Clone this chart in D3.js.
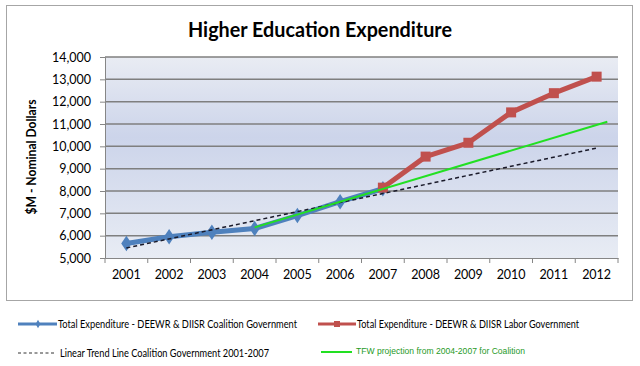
<!DOCTYPE html>
<html><head><meta charset="utf-8">
<script src="https://cdn.jsdelivr.net/npm/d3@7"></script>
<style>body{margin:0;background:#fff}svg{display:block}</style>
</head><body>
<svg id="c" width="640" height="366"></svg>
<script>
const years = [2001,2002,2003,2004,2005,2006,2007,2008,2009,2010,2011,2012];
const coalitionYears = [2001,2002,2003,2004,2005,2006,2007];
const coalitionValues = [5650,5950,6150,6320,6900,7520,8100];
const laborYears = [2007,2008,2009,2010,2011,2012];
const laborValues = [8150,9540,10160,11520,12380,13120];
const trendYears = [2001,2012];
const trendValues = [5450,9920];
const projYears = [2004,2012.25];
const projValues = [6370,11100];
const yTicks = [5000,6000,7000,8000,9000,10000,11000,12000,13000,14000];

const svg = d3.select("#c");
const L=105,R=618,T=57,B=258;
const x = d3.scaleBand().domain(years).range([L,R]);
const xl = d3.scaleLinear().domain([2001,2012]).range([x(2001)+x.bandwidth()/2, x(2012)+x.bandwidth()/2]);
const y = d3.scaleLinear().domain([5000,14000]).range([B,T]);
const font = "Lato, 'Open Sans', sans-serif";

// frame
svg.append("rect").attr("x",6.5).attr("y",5.5).attr("width",626).attr("height",295).attr("fill","#fff").attr("stroke","#a6a6a6");

const defs = svg.append("defs");
const g = defs.append("linearGradient").attr("id","bg").attr("x1",0).attr("y1",0).attr("x2",0).attr("y2",1);
g.append("stop").attr("offset","0%").attr("stop-color","#e9ecf3");
g.append("stop").attr("offset","40%").attr("stop-color","#ccd4ea");
g.append("stop").attr("offset","100%").attr("stop-color","#e8ecf4");
svg.append("rect").attr("x",L).attr("y",T).attr("width",R-L).attr("height",B-T).attr("fill","url(#bg)");

// title
svg.append("text").attr("x",320).attr("y",36.5).attr("text-anchor","middle")
  .attr("font-family",font).attr("font-weight","bold").attr("font-size",21).attr("fill","#000")
  .attr("textLength",264).attr("lengthAdjust","spacingAndGlyphs")
  .text("Higher Education Expenditure");

// gridlines
svg.append("g").selectAll("line").data(yTicks.slice(1)).join("line")
  .attr("x1",L).attr("x2",R).attr("y1",d=>y(d)).attr("y2",d=>y(d))
  .attr("stroke","#7f7f7f").attr("stroke-width",1.5);

// y axis
const ya = svg.append("g").attr("transform",`translate(${L},0)`)
  .call(d3.axisLeft(y).tickValues(yTicks).tickSize(5).tickPadding(9).tickFormat(d3.format(",")));
ya.select(".domain").attr("stroke","#868686");
ya.selectAll(".tick line").attr("stroke","#868686");
ya.selectAll("text").attr("font-family",font).attr("font-size",12.5).attr("fill","#000");

// x axis
const xa = svg.append("g").attr("transform",`translate(0,${B})`)
  .call(d3.axisBottom(x).tickSize(0).tickPadding(12));
xa.select(".domain").attr("stroke","#868686");
xa.selectAll("text").attr("font-family",font).attr("font-size",12.5).attr("fill","#000");
svg.append("g").selectAll("line").data(years.concat([2013])).join("line")
  .attr("x1",d=>d===2013?R:x(d)).attr("x2",d=>d===2013?R:x(d)).attr("y1",B).attr("y2",B+5)
  .attr("stroke","#868686");

// y axis title
svg.append("text").attr("transform",`translate(36,157) rotate(-90)`).attr("text-anchor","middle")
  .attr("font-family",font).attr("font-weight","bold").attr("font-size",13)
  .attr("textLength",115).attr("lengthAdjust","spacingAndGlyphs").text("$M - Nominal Dollars");

const line = d3.line().x(d=>d[0]).y(d=>d[1]);
const blue="#4f81bd", red="#c0504d", green="#22e022";

// blue series
const bpts = coalitionYears.map((yr,i)=>[x(yr)+x.bandwidth()/2, y(coalitionValues[i])]);
svg.append("path").attr("d",line(bpts)).attr("fill","none").attr("stroke",blue).attr("stroke-width",5).attr("stroke-linejoin","round");
svg.append("g").selectAll("path").data(bpts).join("path")
  .attr("d",d3.symbol(d3.symbolDiamond,70)).attr("transform",d=>`translate(${d[0]},${d[1]}) scale(1.15,1)`).attr("fill",blue);

// red series
const rpts = laborYears.map((yr,i)=>[x(yr)+x.bandwidth()/2, y(laborValues[i])]);
svg.append("path").attr("d",line(rpts)).attr("fill","none").attr("stroke",red).attr("stroke-width",5).attr("stroke-linejoin","round");
svg.append("g").selectAll("rect").data(rpts).join("rect")
  .attr("x",d=>d[0]-5).attr("y",d=>d[1]-5).attr("width",10).attr("height",10).attr("fill",red);

// trend dashed
const tpts = trendYears.map((yr,i)=>[xl(yr), y(trendValues[i])]);
svg.append("path").attr("d",line(tpts)).attr("fill","none").attr("stroke","#1a1a2a").attr("stroke-width",1.5).attr("stroke-dasharray","4,3");

// green projection
const gpts = projYears.map((yr,i)=>[xl(yr), y(projValues[i])]);
svg.append("path").attr("d",line(gpts)).attr("fill","none").attr("stroke",green).attr("stroke-width",2);

// legend
const lg = svg.append("g");
function ltext(xp, yp, w, txt, size, fam, col){
  lg.append("text").attr("x",xp).attr("y",yp).attr("font-family",fam||font).attr("font-size",size)
    .attr("fill",col||"#000").attr("textLength",w).attr("lengthAdjust","spacingAndGlyphs").text(txt);
}
lg.append("line").attr("x1",18).attr("x2",57).attr("y1",324).attr("y2",324).attr("stroke",blue).attr("stroke-width",3);
lg.append("path").attr("d",d3.symbol(d3.symbolDiamond,20)).attr("transform","translate(38,324)").attr("fill",blue);
ltext(58,328,239,"Total  Expenditure - DEEWR & DIISR Coalition Government",10.5);
lg.append("line").attr("x1",318).attr("x2",356).attr("y1",324).attr("y2",324).attr("stroke",red).attr("stroke-width",3);
lg.append("rect").attr("x",334).attr("y",321).attr("width",6).attr("height",6).attr("fill",red);
ltext(357,328,222,"Total  Expenditure - DEEWR & DIISR Labor Government",10.5);
lg.append("line").attr("x1",18).attr("x2",56).attr("y1",353).attr("y2",353).attr("stroke","#333").attr("stroke-width",1).attr("stroke-dasharray","3,2.5");
ltext(60,357,209,"Linear Trend Line Coalition Government 2001-2007",10.5);
lg.append("line").attr("x1",321).attr("x2",352).attr("y1",352).attr("y2",352).attr("stroke",green).attr("stroke-width",2);
ltext(356,354,169,"TFW projection from 2004-2007 for Coalition",8.5,"'Liberation Sans', Arial, sans-serif","#1f9a1f");
</script>
</body></html>
